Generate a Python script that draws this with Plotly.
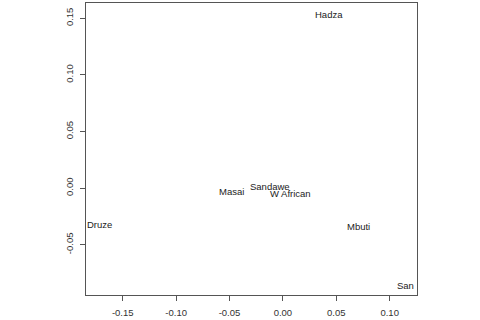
import plotly.graph_objects as go

labels = ["Hadza", "Masai", "Sandawe", "W African", "Druze", "Mbuti", "San"]
x_vals = [0.0436, -0.0486, -0.0122, 0.0072, -0.1718, 0.0706, 0.1144]
y_vals = [0.1543, -0.0023, 0.0019, -0.0043, -0.0312, -0.0332, -0.0854]

x_ticks = [-0.15, -0.10, -0.05, 0.00, 0.05, 0.10]
x_tick_text = ["-0.15", "-0.10", "-0.05", "0.00", "0.05", "0.10"]
y_ticks = [-0.05, 0.00, 0.05, 0.10, 0.15]
y_tick_text = ["-0.05", "0.00", "0.05", "0.10", "0.15"]

font_family = "Liberation Sans, Arial, Helvetica, sans-serif"

fig = go.Figure(go.Scatter(
    x=x_vals, y=y_vals, mode="markers",
    marker=dict(size=1, opacity=0), hoverinfo="skip",
))

# labels drawn as annotations anchored at data coordinates
for lab, xv, yv in zip(labels, x_vals, y_vals):
    fig.add_annotation(
        x=xv, y=yv, text=lab, showarrow=False,
        xanchor="center", yanchor="middle", yshift=-1,
        borderpad=0,
        font=dict(family=font_family, size=9.5, color="#222222"),
    )

fig.update_layout(
    width=480, height=320,
    margin=dict(l=86, r=63, t=2, b=23),
    paper_bgcolor="white", plot_bgcolor="white",
    showlegend=False,
    font=dict(family=font_family, size=9.5, color="#333333"),
)
fig.update_xaxes(
    range=[-0.1844, 0.1256], showgrid=False, zeroline=False,
    showline=True, mirror=True, linecolor="#555555", linewidth=1,
    ticks="outside", ticklen=5, tickcolor="#555555",
    tickvals=x_ticks, ticktext=x_tick_text, ticklabelstandoff=4,
)
fig.update_yaxes(
    range=[-0.0944, 0.1635], showgrid=False, zeroline=False,
    showline=True, mirror=True, linecolor="#555555", linewidth=1,
    ticks="outside", ticklen=5, tickcolor="#555555",
    tickvals=y_ticks, ticktext=y_tick_text, tickangle=-90,
    ticklabelstandoff=3,
)

fig.write_html("out.html")
